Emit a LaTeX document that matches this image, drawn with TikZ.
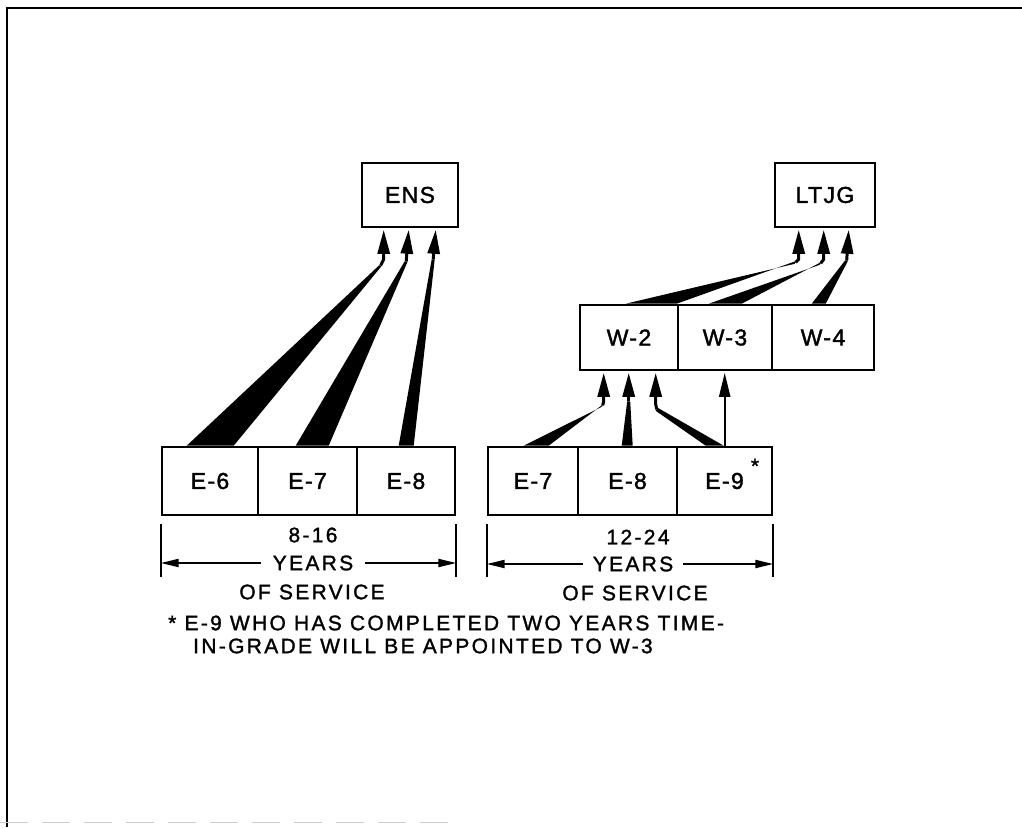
\documentclass[tikz,border=0pt]{standalone}
\usepackage{fontspec}
\setmainfont{Liberation Sans}
\newfontfamily\lettering[LetterSpace=11,FakeBold=1.4]{Liberation Sans}
\newfontfamily\boxfont[LetterSpace=6,FakeBold=1.6]{Liberation Sans}
\usetikzlibrary{arrows.meta,calc}
\tikzset{
  box/.style={draw,line width=2.6pt,inner sep=0pt,font=\boxfont\fontsize{23}{26}\selectfont},
  txt/.style={inner sep=0pt,font=\lettering\fontsize{21}{24}\selectfont},
  wedge/.style={fill=black},
  arr/.style={line width=3pt,line join=round,-{Triangle[length=24pt,width=12pt]}},
  thinarr/.style={line width=2.2pt,-{Triangle[length=24pt,width=11pt]}},
  dim/.style={line width=2pt,-{Triangle[length=18pt,width=8pt]}},
  bar/.style={line width=2.2pt},
  frame/.style={line width=2.6pt}
}
\begin{document}
\begin{tikzpicture}[x=1pt,y=-1pt]
\useasboundingbox (0,0) rectangle (1022,827);
% frame
\draw[frame] (7,827) -- (7,8) -- (1022,8);
\draw[gray!40,line width=1pt,dash pattern=on 28pt off 14pt] (0,822) -- (460,822);

% boxes
\node[box,minimum width=96,minimum height=64] (ens) at (410,195) {ENS};
\node[box,minimum width=100,minimum height=64] (ltjg) at (825,195) {LTJG};
\node[box,minimum width=98,minimum height=65] (w2) at (629,337.5) {W-2};
\node[box,minimum width=94,minimum height=65] (w3) at (725,337.5) {W-3};
\node[box,minimum width=102,minimum height=65] (w4) at (823,337.5) {W-4};
\node[box,minimum width=96,minimum height=68] (e6) at (210,481) {E-6};
\node[box,minimum width=99,minimum height=68] (e7) at (307.5,481) {E-7};
\node[box,minimum width=98,minimum height=68] (e8) at (406,481) {E-8};
\node[box,minimum width=90,minimum height=68] (f7) at (533,481) {E-7};
\node[box,minimum width=99,minimum height=68] (f8) at (627.5,481) {E-8};
\node[box,minimum width=95,minimum height=68] (f9) at (724.5,481) {E-9};
\node[txt] (star) at (755,466) {*};

% E-6 -> ENS
\fill[wedge] ($(e6.north west)+(26,0)$) -- ($(ens.south west)+(18.5,37)$) -- ($(ens.south west)+(21.5,37)$) -- ($(e6.north west)+(73,0)$) -- cycle;
\draw[arr] ($(ens.south west)+(20,37)$) -- ($(ens.south west)+(23,31)$) -- ($(ens.south west)+(23,1.5)$);
% E-7 -> ENS
\fill[wedge] ($(e7.north west)+(39,0)$) -- ($(ens.south west)+(44,33)$) -- ($(ens.south west)+(47,33)$) -- ($(e7.north west)+(72,0)$) -- cycle;
\draw[arr] ($(ens.south west)+(45.5,33)$) -- ($(ens.south west)+(48,1.5)$);
% E-8 -> ENS
\fill[wedge] ($(e8.north west)+(43,0)$) -- ($(ens.south west)+(71,31)$) -- ($(ens.south west)+(74,31)$) -- ($(e8.north west)+(58,0)$) -- cycle;
\draw[arr] ($(ens.south west)+(72.5,31)$) -- ($(ens.south west)+(75,1.5)$);

% W-2 -> LTJG
\fill[wedge] ($(w2.north west)+(47,0)$) -- ($(ltjg.south west)+(21,35.5)$) -- ($(ltjg.south west)+(23,32.5)$) -- ($(w2.north west)+(98,0)$) -- cycle;
\draw[arr] ($(ltjg.south west)+(22,34)$) -- ($(ltjg.south west)+(25,31)$) -- ($(ltjg.south west)+(25,1.5)$);
% W-3 -> LTJG
\fill[wedge] ($(w3.north west)+(32,0)$) -- ($(ltjg.south west)+(46,36.5)$) -- ($(ltjg.south west)+(48,33.5)$) -- ($(w3.north west)+(65,0)$) -- cycle;
\draw[arr] ($(ltjg.south west)+(47,35)$) -- ($(ltjg.south west)+(50,31)$) -- ($(ltjg.south west)+(50,1.5)$);
% W-4 -> LTJG
\fill[wedge] ($(w4.north west)+(41,0)$) -- ($(ltjg.south west)+(71.5,32)$) -- ($(ltjg.south west)+(74.5,32)$) -- ($(w4.north west)+(55,0)$) -- cycle;
\draw[arr] ($(ltjg.south west)+(73,32)$) -- ($(ltjg.south west)+(75,1.5)$);

% E-7 -> W-2
\fill[wedge] ($(f7.north west)+(37,0)$) -- ($(w2.south west)+(23,35.5)$) -- ($(w2.south west)+(25,32.5)$) -- ($(f7.north west)+(62,0)$) -- cycle;
\draw[arr] ($(w2.south west)+(24,34)$) -- ($(w2.south west)+(25,30)$) -- ($(w2.south west)+(25,1.5)$);
% E-8 -> W-2
\fill[wedge] ($(f8.north west)+(45,0)$) -- ($(w2.south west)+(48.5,30)$) -- ($(w2.south west)+(51.5,30)$) -- ($(f8.north west)+(56,0)$) -- cycle;
\draw[arr] ($(w2.south west)+(50,30)$) -- ($(w2.south west)+(50,1.5)$);
% E-9 -> W-2
\fill[wedge] ($(f9.north west)+(30,0)$) -- ($(w2.south west)+(77,39.5)$) -- ($(w2.south west)+(79,36.5)$) -- ($(f9.north west)+(48,0)$) -- cycle;
\draw[arr] ($(w2.south west)+(78,38)$) -- ($(w2.south west)+(77,33)$) -- ($(w2.south west)+(77,1.5)$);
% E-9 -> W-3
\draw[thinarr] ($(f9.north west)+(49,0)$) -- ($(w3.south west)+(48,1.5)$);

% dimension annotations, left
\draw[bar] ($(e6.south west)+(0,8)$) -- ($(e6.south west)+(0,61)$);
\draw[bar] ($(e8.south east)+(0,8)$) -- ($(e8.south east)+(0,61)$);
\node[txt] (r1) at (313,535) {8-16};
\node[txt] (y1) at (313,563) {YEARS};
\node[txt] (s1) at (312,592) {OF SERVICE};
\draw[dim] ($(y1.west)+(-12,0)$) -- (y1.west -| e6.west);
\draw[dim] ($(y1.east)+(12,0)$) -- (y1.east -| e8.east);

% dimension annotations, right
\draw[bar] ($(f7.south west)+(0,8)$) -- ($(f7.south west)+(0,61)$);
\draw[bar] ($(f9.south east)+(0,8)$) -- ($(f9.south east)+(0,61)$);
\node[txt] (r2) at (638,537) {12-24};
\node[txt] (y2) at (633,564) {YEARS};
\node[txt] (s2) at (635,593) {OF SERVICE};
\draw[dim] ($(y2.west)+(-10,0)$) -- (y2.west -| f7.west);
\draw[dim] ($(y2.east)+(10,0)$) -- (y2.east -| f9.east);

% footnote
\node[txt,anchor=west] (fn1) at (168,623) {* E-9 WHO HAS COMPLETED TWO YEARS TIME-};
\node[txt,anchor=west] (fn2) at (193,646) {IN-GRADE WILL BE APPOINTED TO W-3};
\end{tikzpicture}
\end{document}
